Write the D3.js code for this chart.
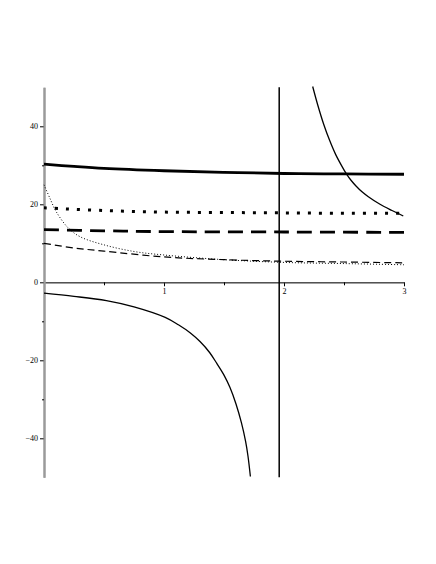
<!DOCTYPE html>
<html>
<head>
<meta charset="utf-8">
<script src="https://cdn.jsdelivr.net/npm/d3@7/dist/d3.min.js"></script>
<style>
  body { margin: 0; background: #fff; }
  svg { display: block; }
  .tick text { font-family: "Liberation Serif", "DejaVu Serif", serif; font-size: 8px; fill: #000; }
</style>
</head>
<body>
<svg width="436" height="564"></svg>
<script>
// values, [x, y]
const thickSolid = [[0, 30.3], [0.25, 29.7], [0.5, 29.2], [1, 28.6], [1.5, 28.2], [2, 27.9], [2.5, 27.8], [3, 27.7]];
const thickDotted = [[0, 19.1], [0.5, 18.4], [1, 18.0], [1.5, 17.9], [2, 17.8], [2.5, 17.7], [3, 17.7]];
const longDash = [[0, 13.5], [0.5, 13.2], [1, 13.0], [2, 12.9], [3, 12.8]];
const thinDash = [[0, 10.0], [0.25, 8.8], [0.5, 8.0], [1, 6.5], [1.5, 5.8], [2, 5.4], [2.5, 5.2], [3, 5.0]];
const thinDotted = [[0, 25.0], [0.05, 21.5], [0.1, 18.2], [0.2, 14.0], [0.3, 11.7], [0.5, 9.6], [0.75, 7.9], [1, 7.0], [1.5, 5.8], [2, 5.1], [2.5, 4.8], [3, 4.5]];
const asymptote = [[1.96, -50], [1.96, 50]];
const leftBranch = [[0, -2.8], [0.25, -3.6], [0.52, -4.7], [0.75, -6.3], [1.01, -9.0], [1.12, -10.9], [1.22, -13.0], [1.3, -15.2], [1.38, -18.0], [1.44, -20.8], [1.5, -23.8], [1.55, -27.0], [1.6, -31.2], [1.645, -36.0], [1.68, -40.8], [1.70, -44.6], [1.72, -49.8]];
const rightBranch = [[2.239, 50.2], [2.28, 45.6], [2.33, 40.6], [2.38, 36.4], [2.43, 32.8], [2.48, 29.9], [2.52, 27.8], [2.56, 26.1], [2.6, 24.7], [2.65, 23.2], [2.7, 22.0], [2.8, 20.0], [2.9, 18.4], [2.994, 17.0]];

const xMajor = [1, 2, 3];
const xMinor = [0.5, 1.5, 2.5];
const yMajor = [-40, -20, 0, 20, 40];
const yMinor = [-30, -10, 10, 30];

const svg = d3.select('svg');
const x = d3.scaleLinear().domain([0, 3]).range([44, 404]);
const y = d3.scaleLinear().domain([-50, 50]).range([477.3, 87.3]);

const fmt = (d) => (d < 0 ? '\u2212' + Math.abs(d) : String(d));

// x axis
const gx = svg.append('g').attr('transform', `translate(0,${y(0)})`);
gx.call(d3.axisBottom(x).tickValues(xMajor).tickSize(4).tickSizeOuter(0).tickPadding(2).tickFormat(fmt));
gx.append('g').call(d3.axisBottom(x).tickValues(xMinor).tickSize(3).tickSizeOuter(0).tickFormat(''));
gx.selectAll('.domain').attr('stroke', '#444').attr('stroke-width', 1);
gx.selectAll('.tick line').attr('stroke', '#000');
gx.selectAll('text').attr('fill', '#000');

// y axis
const gy = svg.append('g').attr('transform', `translate(${x(0)},0)`);
gy.call(d3.axisLeft(y).tickValues(yMajor).tickSize(4).tickSizeOuter(0).tickPadding(2).tickFormat(fmt));
gy.append('g').call(d3.axisLeft(y).tickValues(yMinor).tickSize(2).tickSizeOuter(0).tickFormat(''));
gy.selectAll('.domain').attr('stroke', '#9a9a9a').attr('stroke-width', 2);
gy.selectAll('.tick line').attr('stroke', '#000');
gy.selectAll('text').attr('fill', '#000');

const line = d3.line().x((d) => x(d[0])).y((d) => y(d[1])).curve(d3.curveCatmullRom.alpha(0.5));
const straight = d3.line().x((d) => x(d[0])).y((d) => y(d[1]));

const series = [
  { data: thickSolid, width: 2.8, dash: null },
  { data: thickDotted, width: 3, dash: '3,8' },
  { data: longDash, width: 2.8, dash: '15,8' },
  { data: thinDash, width: 1.2, dash: '7,4' },
  { data: thinDotted, width: 1, dash: '1,2' },
  { data: leftBranch, width: 1.3, dash: null },
  { data: rightBranch, width: 1.3, dash: null },
];

svg.append('g')
  .selectAll('path')
  .data(series)
  .enter()
  .append('path')
  .attr('d', (d) => line(d.data))
  .attr('fill', 'none')
  .attr('stroke', '#000')
  .attr('stroke-width', (d) => d.width)
  .attr('stroke-dasharray', (d) => d.dash);

svg.append('path')
  .attr('d', straight(asymptote))
  .attr('fill', 'none')
  .attr('stroke', '#000')
  .attr('stroke-width', 1.5);
</script>
</body>
</html>
